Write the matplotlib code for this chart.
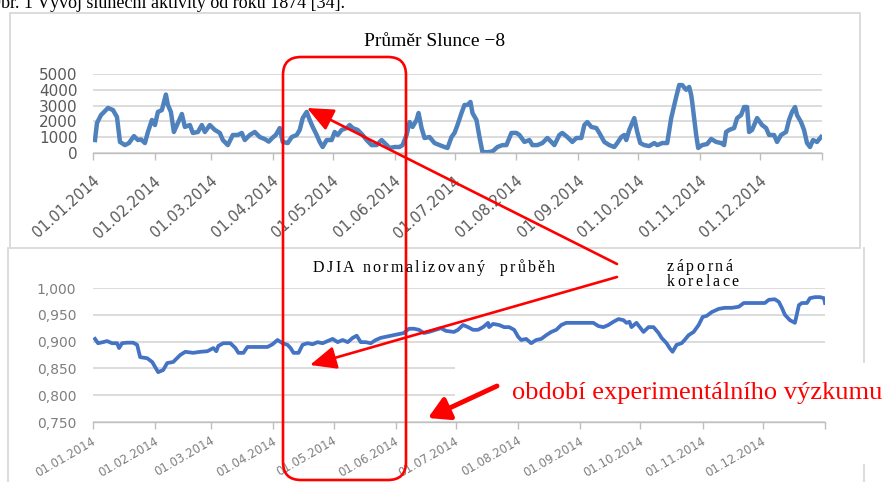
import numpy as np
import pandas as pd
import matplotlib
matplotlib.use('Agg')
import matplotlib.pyplot as plt
import matplotlib.transforms as mtransforms
from matplotlib.patches import FancyBboxPatch, Rectangle
from matplotlib.lines import Line2D
from matplotlib import font_manager as fm
from matplotlib.ft2font import FT2Font

# ---------------- data ----------------
month_labels = ['01.01.2014', '01.02.2014', '01.03.2014', '01.04.2014', '01.05.2014',
                '01.06.2014', '01.07.2014', '01.08.2014', '01.09.2014', '01.10.2014',
                '01.11.2014', '01.12.2014']

# Průměr Slunce (day offset from 1.1.2014, value)
sun_day = [1, 2, 4, 7.5, 10, 12, 13.5, 16, 18, 20.5, 22.5, 24, 26, 27.5, 29.5, 31, 32.5, 34.5,
           36.5, 37.5, 39, 40.5, 42.5, 44.5, 46, 48.5, 50, 52.5, 54.5, 56, 58.5, 61, 63.5, 65,
           67.5, 70, 72.5, 74.5, 76, 78.5, 81, 83.5, 86, 88, 90, 91.5, 93.5, 95, 97.5, 99.5,
           102, 103.5, 105, 107, 108.5, 110, 112, 113.5, 115, 117, 119.5, 121, 122.5, 124.5,
           127, 128.5, 130, 132.5, 135, 137, 139.5, 142, 144.5, 146, 148.5, 151, 153.5, 155,
           157, 158.5, 160, 162, 163, 164.5, 166, 168.5, 171, 173.5, 176, 177.5, 179.5, 181,
           182.5, 184.5, 186, 187.5, 189, 190, 192, 193.5, 195, 197.5, 200, 202.5, 205, 207,
           209.5, 212, 213.5, 216, 218.5, 220, 222.5, 225, 227.5, 229.5, 231, 233.5, 235,
           237.5, 240, 242, 244.5, 246, 247.5, 249.5, 252, 253.5, 256, 258.5, 261, 262.5,
           264.5, 266, 267, 268.5, 271, 272.5, 274, 276, 278.5, 281, 282.5, 285, 287.5, 289.5,
           292, 293.5, 295, 297, 298.5, 299.5, 300, 302, 303, 305, 307.5, 309.5, 312, 314.5,
           316, 317, 318.5, 321, 322.5, 324.5, 326, 327.5, 328.5, 330, 332.5, 335, 337, 338.5,
           341, 342.5, 344.5, 347, 348.5, 350, 351.5, 352.5, 354.5, 356, 357.5, 359, 360.5,
           362.5, 364.5]
sun_value = [820, 1900, 2400, 2850, 2720, 2280, 700, 500, 630, 1070, 820, 860, 630, 1330, 2090,
             1770, 2600, 2720, 3700, 3040, 2600, 1330, 1900, 2470, 1650, 1770, 1270, 1330, 1770,
             1330, 1770, 1460, 1270, 820, 500, 1140, 1140, 1270, 820, 1140, 1330, 1010, 880,
             720, 980, 1140, 1580, 700, 630, 1010, 1140, 1460, 2210, 2600, 2090, 1650, 1140,
             700, 380, 820, 820, 1330, 1140, 1460, 1580, 1770, 1580, 1460, 1140, 820, 500, 500,
             820, 630, 320, 380, 380, 500, 1140, 1960, 1650, 2090, 2530, 1580, 950, 1010, 630,
             500, 380, 320, 1010, 1270, 1770, 2530, 3040, 3040, 3230, 2530, 2090, 1010, 60, 50,
             100, 380, 500, 500, 1270, 1270, 1140, 700, 820, 500, 500, 630, 950, 700, 500, 1140,
             1270, 1010, 700, 950, 950, 1770, 1960, 1650, 1580, 1270, 700, 500, 380, 630, 1010,
             1140, 820, 1460, 2210, 1330, 630, 500, 440, 630, 500, 630, 630, 2210, 3550, 4300,
             4300, 4000, 4180, 3670, 3230, 1140, 320, 500, 570, 890, 700, 630, 500, 1330, 1460,
             1580, 2210, 2400, 2910, 2910, 1330, 1460, 2210, 1770, 1580, 1140, 1140, 700, 1140,
             1330, 2090, 2600, 2910, 2400, 1960, 1460, 630, 380, 820, 700, 1010]

# DJIA normalizovaný průběh (day offset, value)
djia_day = [1, 2.5, 5, 7, 9.5, 12, 13, 14.5, 17, 20, 22, 23.5, 27, 29.5, 32.5, 35, 37, 40, 43.5,
            46, 50, 53.5, 57, 60, 61.5, 62.5, 65, 68.5, 71, 72.5, 75, 77, 80, 83.5, 87, 89.5,
            92, 94.5, 97, 98.5, 100, 102.5, 104.5, 107, 109.5, 112, 114.5, 117, 119.5, 122,
            124.5, 127, 129.5, 131.5, 133.5, 136, 138.5, 141, 143.5, 146, 149.5, 152.5, 155,
            157.5, 160, 162.5, 165, 167.5, 171, 173.5, 176, 180, 182, 184.5, 187, 189.5, 192,
            194.5, 197, 197.5, 199.5, 202.5, 205, 207.5, 210, 212, 213.5, 216, 218.5, 221,
            223.5, 226, 228.5, 231, 233.5, 236, 238.5, 242, 244.5, 247, 249.5, 252, 254.5, 257,
            259.5, 262, 264.5, 266, 267.5, 268.5, 271, 274.5, 277, 279.5, 282, 283.5, 286,
            287.5, 289, 291, 293.5, 295, 297, 299.5, 302, 304, 306, 308.5, 312, 315, 318.5,
            322, 324.5, 328.5, 332.5, 335, 337, 340, 342, 343.5, 345, 347.5, 350, 352, 353.5,
            356, 357.5, 360, 362.5, 364.5, 365]
djia_value = [0.905, 0.897, 0.899, 0.901, 0.897, 0.897, 0.888, 0.897, 0.898, 0.898, 0.894, 0.871,
              0.869, 0.862, 0.843, 0.847, 0.860, 0.862, 0.875, 0.881, 0.879, 0.881, 0.882,
              0.888, 0.882, 0.892, 0.897, 0.897, 0.888, 0.879, 0.879, 0.890, 0.890, 0.890,
              0.890, 0.895, 0.903, 0.897, 0.894, 0.888, 0.879, 0.879, 0.894, 0.897, 0.895,
              0.899, 0.897, 0.901, 0.905, 0.899, 0.903, 0.899, 0.907, 0.911, 0.899, 0.899,
              0.897, 0.903, 0.907, 0.909, 0.912, 0.914, 0.916, 0.924, 0.924, 0.922, 0.916,
              0.918, 0.922, 0.925, 0.920, 0.918, 0.922, 0.931, 0.927, 0.922, 0.922, 0.927,
              0.935, 0.927, 0.933, 0.931, 0.927, 0.927, 0.922, 0.909, 0.903, 0.905, 0.897,
              0.903, 0.905, 0.912, 0.918, 0.922, 0.931, 0.935, 0.935, 0.935, 0.935, 0.935,
              0.935, 0.929, 0.927, 0.931, 0.937, 0.942, 0.940, 0.935, 0.937, 0.927, 0.935,
              0.918, 0.927, 0.927, 0.916, 0.907, 0.897, 0.888, 0.881, 0.894, 0.897, 0.903,
              0.912, 0.918, 0.931, 0.946, 0.948, 0.955, 0.961, 0.963, 0.963, 0.965, 0.972,
              0.972, 0.972, 0.972, 0.978, 0.979, 0.974, 0.963, 0.950, 0.940, 0.935, 0.968,
              0.972, 0.972, 0.981, 0.983, 0.983, 0.981, 0.972]

sun_yticks = [0, 1000, 2000, 3000, 4000, 5000]
djia_yticks = [0.750, 0.800, 0.850, 0.900, 0.950, 1.000]
djia_yticklabels = ['0,750', '0,800', '0,850', '0,900', '0,950', '1,000']

# ---------------- figure ----------------
W, H = 885, 482
fig = plt.figure(figsize=(W / 100, H / 100), dpi=100)
fig.patch.set_facecolor('white')

start = pd.Timestamp('2014-01-01')
end = pd.Timestamp('2015-01-01')
month_ticks = pd.date_range(start, end, freq='MS')
sun_dates = start + pd.to_timedelta(sun_day, unit='D')
djia_dates = start + pd.to_timedelta(djia_day, unit='D')


def px_axes(x0, y0, x1, y1):
    return fig.add_axes([x0 / W, 1 - y1 / H, (x1 - x0) / W, (y1 - y0) / H])


def style(ax, label_size, label_color, rot, dx, dy, ypad, ysize, ycolor):
    ax.set_xlim(start, end)
    for s in ['top', 'right', 'left']:
        ax.spines[s].set_visible(False)
    ax.spines['bottom'].set_color('#bfbfbf')
    ax.spines['bottom'].set_linewidth(1.0)
    ax.grid(axis='y', color='#d9d9d9', lw=1.3)
    ax.set_axisbelow(True)
    ax.set_xticks(month_ticks)
    ax.set_xticklabels(month_labels + [''])
    ax.tick_params(axis='x', length=5, color='#bfbfbf', width=1, pad=0,
                   labelsize=label_size, labelcolor=label_color)
    ax.tick_params(axis='y', length=0, pad=ypad, labelsize=ysize, labelcolor=ycolor)
    off = mtransforms.ScaledTranslation(dx / 100, -dy / 100, fig.dpi_scale_trans)
    for lab in ax.get_xticklabels():
        lab.set_rotation(rot)
        lab.set_rotation_mode('anchor')
        lab.set_ha('right')
        lab.set_va('center')
        lab.set_transform(lab.get_transform() + off)


# top chart
ax1 = px_axes(93, 74, 822, 153)
ax1.plot(sun_dates, sun_value, color='#4f81bd', lw=3.2, solid_joinstyle='round')
ax1.set_ylim(0, 5000)
ax1.set_yticks(sun_yticks)
style(ax1, 10.5, '#595959', 42, 4, 19, 11, 11, '#595959')

# bottom chart
ax2 = px_axes(93, 288, 825, 422)
ax2.plot(djia_dates, djia_value, color='#4472c4', lw=2.7, solid_joinstyle='round')
ax2.set_ylim(0.75, 1.0)
ax2.set_yticks(djia_yticks)
ax2.set_yticklabels(djia_yticklabels)
style(ax2, 8.5, '#7f7f7f', 30, 2, 11, 12, 10, '#7f7f7f')

# ---------------- overlay (pixel coordinates) ----------------
ov = fig.add_axes([0, 0, 1, 1])
ov.set_zorder(10)
ov.set_xlim(0, W)
ov.set_ylim(H, 0)
ov.axis('off')
ov.patch.set_alpha(0)

frame_c = '#d9d9d9'
ov.add_patch(Rectangle((10, 13), 850, 235, fill=False, ec=frame_c, lw=1.3))
ov.add_line(Line2D([8, 8], [248, 482], color=frame_c, lw=1.3))
ov.add_line(Line2D([864, 864], [248, 362], color=frame_c, lw=1.3))
ov.add_line(Line2D([864, 864], [465, 482], color=frame_c, lw=1.3))
ov.add_patch(Rectangle((455, 362), 430, 57, fc='white', ec='none'))

serif = 'Liberation Serif'
fig.text(-12 / W, 1 - 7.5 / H, 'Obr. 1 Vývoj sluneční aktivity od roku 1874 [34].',
         family=serif, fontsize=13, ha='left', va='baseline', color='black')
ov.text(435, 41, 'Průměr Slunce −8', ha='center', va='center', family=serif, fontsize=14)


def spaced_text(x, y, s, size, spacing, family=serif, color='black'):
    try:
        path = fm.findfont(fm.FontProperties(family=family))
        font = FT2Font(path, hinting_factor=1)
        font.set_size(size, 100)
        advs = [font.load_char(ord(c)).linearHoriAdvance / 65536 for c in s]
    except Exception:
        advs = [size * 100 / 72 * 0.45 for c in s]
    cx = x
    for c, a in zip(s, advs):
        ov.text(cx, y, c, ha='left', va='baseline', family=family, fontsize=size, color=color)
        cx += a + spacing


spaced_text(313, 272, 'DJIA normalizovaný  průběh', 11.5, 2.2)
spaced_text(667, 271, 'záporná', 11.5, 2.5)
spaced_text(667, 286, 'korelace', 11.5, 2.5)

ov.text(512, 393, 'období experimentálního výzkumu', ha='left', va='center',
        family=serif, fontsize=19, color='#ff0000')

red = '#ff0000'
ov.add_patch(FancyBboxPatch((283, 57), 123, 423,
                            boxstyle='round,pad=0,rounding_size=18',
                            fill=False, ec=red, lw=1.9))
arrow_style = '-|>,head_length=0.8,head_width=0.35'
ov.annotate('', xy=(307, 108), xytext=(617, 264),
            arrowprops=dict(arrowstyle=arrow_style, color=red, lw=1.9,
                            mutation_scale=20, shrinkA=0, shrinkB=0))
ov.annotate('', xy=(310, 365), xytext=(617, 277),
            arrowprops=dict(arrowstyle=arrow_style, color=red, lw=1.9,
                            mutation_scale=20, shrinkA=0, shrinkB=0))
ov.annotate('', xy=(428, 418), xytext=(497, 386),
            arrowprops=dict(arrowstyle='-|>,head_length=0.7,head_width=0.4', color=red,
                            lw=3.5, mutation_scale=18, shrinkA=0, shrinkB=0))

fig.savefig('out.png', dpi=100, facecolor='white')
